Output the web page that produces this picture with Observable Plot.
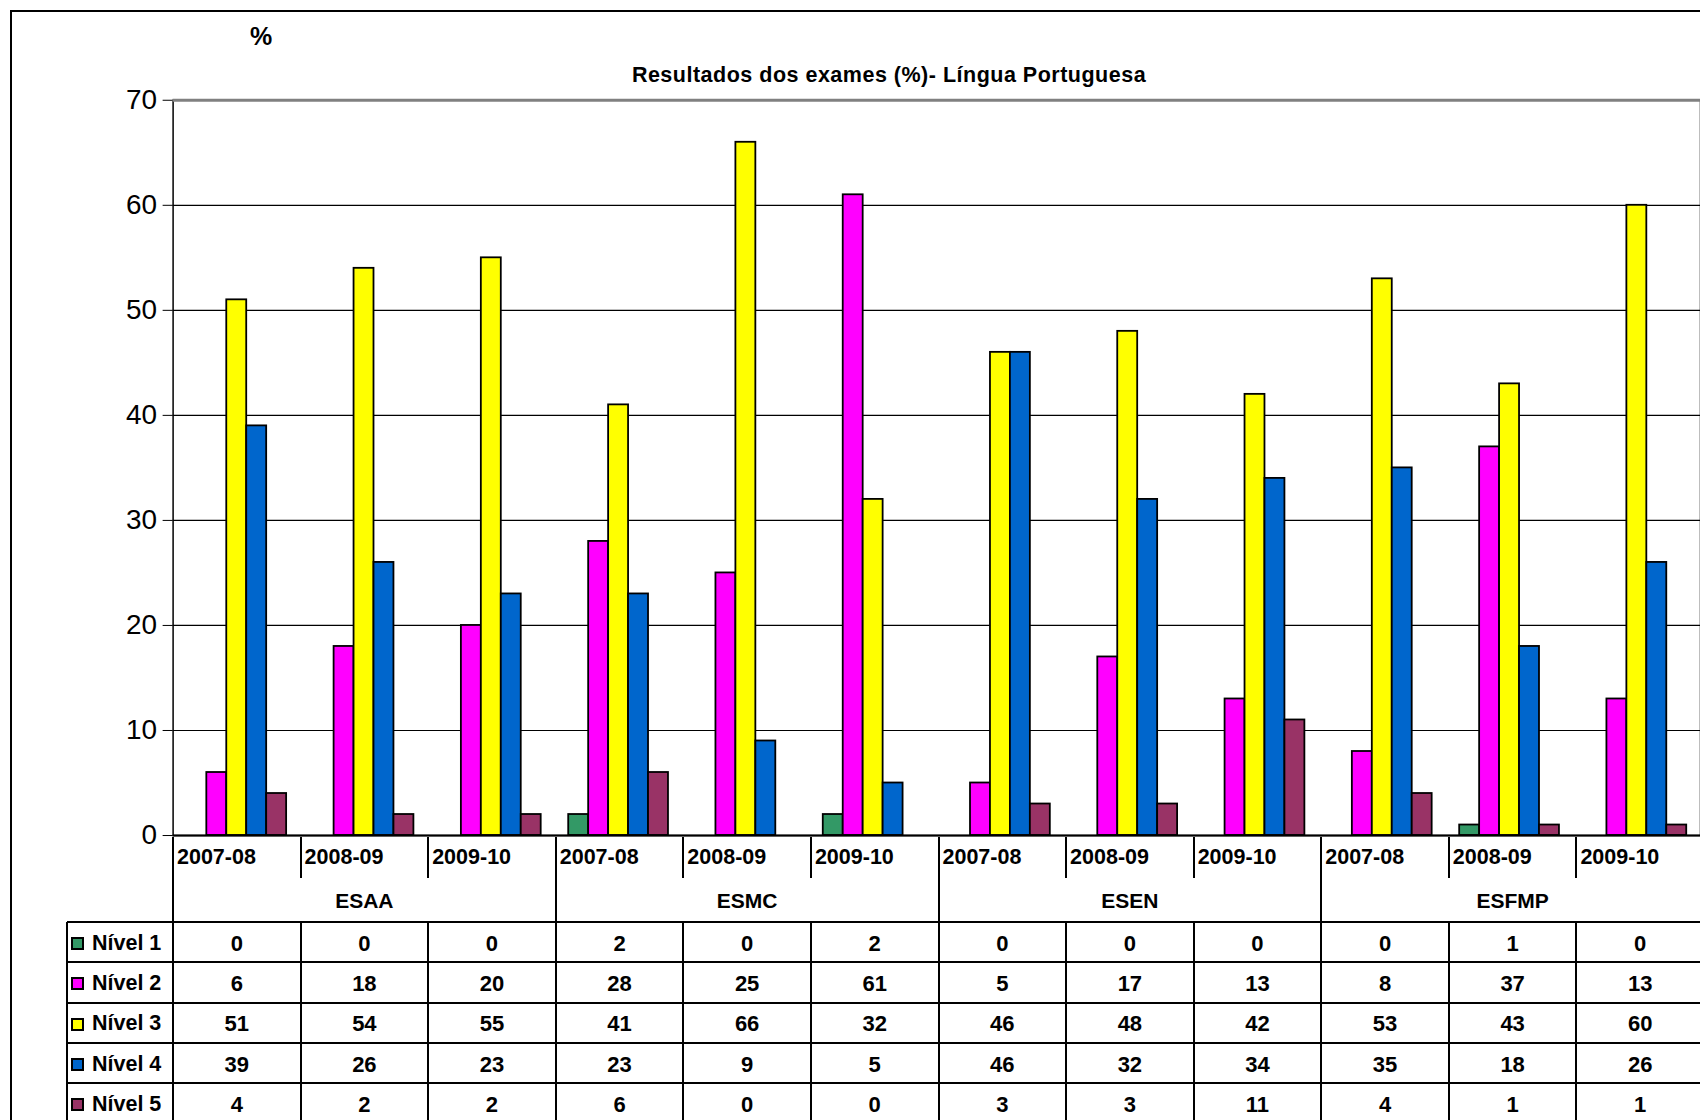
<!DOCTYPE html>
<html>
<head>
<meta charset="utf-8">
<script src="https://cdn.jsdelivr.net/npm/d3@7"></script>
<script src="https://cdn.jsdelivr.net/npm/@observablehq/plot@0.6"></script>
<style>
  html, body { margin: 0; padding: 0; background: #fff; overflow: hidden; }
  #wrap { position: relative; width: 1700px; height: 1120px; overflow: hidden; background: #fff;
          font-family: "Liberation Sans", Arial, sans-serif; color: #000; }
  .abs { position: absolute; }
  .ln { position: absolute; background: #000; }
  .t { position: absolute; white-space: nowrap; font-weight: bold; line-height: 1; }
</style>
</head>
<body>
<div id="wrap"></div>
<script>
// ---------- data ----------
const schools = ["ESAA", "ESMC", "ESEN", "ESFMP"];
const years = ["2007-08", "2008-09", "2009-10"];
const levels = ["Nível 1", "Nível 2", "Nível 3", "Nível 4", "Nível 5"];
const nivel1 = [0, 0, 0, 2, 0, 2, 0, 0, 0, 0, 1, 0];
const nivel2 = [6, 18, 20, 28, 25, 61, 5, 17, 13, 8, 37, 13];
const nivel3 = [51, 54, 55, 41, 66, 32, 46, 48, 42, 53, 43, 60];
const nivel4 = [39, 26, 23, 23, 9, 5, 46, 32, 34, 35, 18, 26];
const nivel5 = [4, 2, 2, 6, 0, 0, 3, 3, 11, 4, 1, 1];
const yTicks = [0, 10, 20, 30, 40, 50, 60, 70];
const colors = ["#339966", "#FF00FF", "#FFFF00", "#0066CC", "#993366"];
const title = "Resultados dos exames (%)- Língua Portuguesa";
const unitLabel = "%";

const series = [nivel1, nivel2, nivel3, nivel4, nivel5];
const keys = schools.flatMap(s => years.map(y => s + "|" + y));
const data = [];
levels.forEach((lv, i) => series[i].forEach((v, j) => data.push({key: keys[j], level: lv, value: v})));

// ---------- layout ----------
const W = 1704, ML = 173, MT = 100, Y0 = 837, H = 860;
const step = (W - ML) / keys.length;
const barW = 20;
const inset = (step - barW) / 2;

const chart = Plot.plot({
  width: W, height: H,
  marginLeft: ML, marginRight: 0, marginTop: MT, marginBottom: H - Y0,
  x: {domain: keys, padding: 0, round: false, axis: null},
  y: {domain: [0, 70], ticks: yTicks, tickSize: 10, tickPadding: 6, label: null},
  color: {domain: levels, range: colors},
  style: {fontSize: "28px", fontFamily: "'Liberation Sans', Arial, sans-serif", background: "transparent", overflow: "visible"},
  marks: [
    Plot.ruleY(yTicks.filter(t => t > 0 && t < 70), {stroke: "#000", strokeWidth: 1.2}),
    ...levels.map((lv, i) => Plot.barY(data.filter(d => d.level === lv), {
      x: "key", y: "value", fill: "level", stroke: "#000", strokeWidth: 1.8,
      insetLeft: inset, insetRight: inset, dx: (i - 2) * barW
    })),
    Plot.frame({stroke: "#000", strokeWidth: 1.5}),
    Plot.ruleY([70], {stroke: "#808080", strokeWidth: 3}),
    Plot.ruleY([0], {stroke: "#000", strokeWidth: 1.8})
  ]
});

const wrap = document.getElementById("wrap");
chart.style.position = "absolute";
chart.style.left = "0px";
chart.style.top = "0px";
wrap.appendChild(chart);

const xs = chart.scale("x");
const colX = k => xs.apply(k);

function el(cls, css, text) {
  const d = document.createElement("div");
  d.className = cls;
  Object.assign(d.style, css);
  if (text !== undefined) d.textContent = text;
  wrap.appendChild(d);
  return d;
}
function hline(x1, x2, y, w = 2) { el("ln", {left: x1 + "px", top: (y - w / 2) + "px", width: (x2 - x1) + "px", height: w + "px"}); }
function vline(x, y1, y2, w = 2) { el("ln", {left: (x - w / 2) + "px", top: y1 + "px", width: w + "px", height: (y2 - y1) + "px"}); }
function textAt(x, y, s, size, anchor = "start") {
  const d = el("t", {left: x + "px", top: y + "px", fontSize: size + "px"}, s);
  const tx = anchor === "middle" ? "-50%" : anchor === "end" ? "-100%" : "0";
  d.style.transform = `translate(${tx}, -50%)`;
  return d;
}

// outer border
el("abs", {left: "10px", top: "10px", width: "1800px", height: "1300px", border: "2px solid #000", boxSizing: "border-box"});

// title and unit
textAt(261, 36, unitLabel, 25, "middle");
textAt(889, 76, title, 21.5, "middle").style.letterSpacing = "0.5px";

// ---------- data table ----------
const rowTop = 922, rowH = 40.3, tableLeft = 67, tableRight = W;
const yearRowY = 858, schoolRowY = 900;
keys.forEach((k, j) => {
  const x = colX(k);
  if (j % 3 === 0) vline(x, Y0, 1130);
  else { vline(x, Y0, 878); vline(x, rowTop, 1130); }
  textAt(x + 4, yearRowY, years[j % 3], 21.5);
  series.forEach((s, i) => textAt(x + step / 2, rowTop + rowH * (i + 0.5) + 1.5, String(s[j]), 22, "middle"));
});
vline(tableRight, Y0, 1130);
schools.forEach((s, i) => textAt(colX(keys[i * 3]) + 1.5 * step, schoolRowY, s, 21, "middle"));
vline(tableLeft, rowTop, 1130);
for (let r = 0; r <= levels.length; r++) hline(tableLeft, tableRight, rowTop + rowH * r);
levels.forEach((lv, i) => {
  const cy = rowTop + rowH * (i + 0.5) + 1.5;
  el("abs", {left: "71px", top: (cy - 6.5) + "px", width: "13px", height: "13px", background: colors[i], border: "2px solid #000", boxSizing: "border-box"});
  textAt(92, cy, lv, 21.5);
});
</script>
</body>
</html>
